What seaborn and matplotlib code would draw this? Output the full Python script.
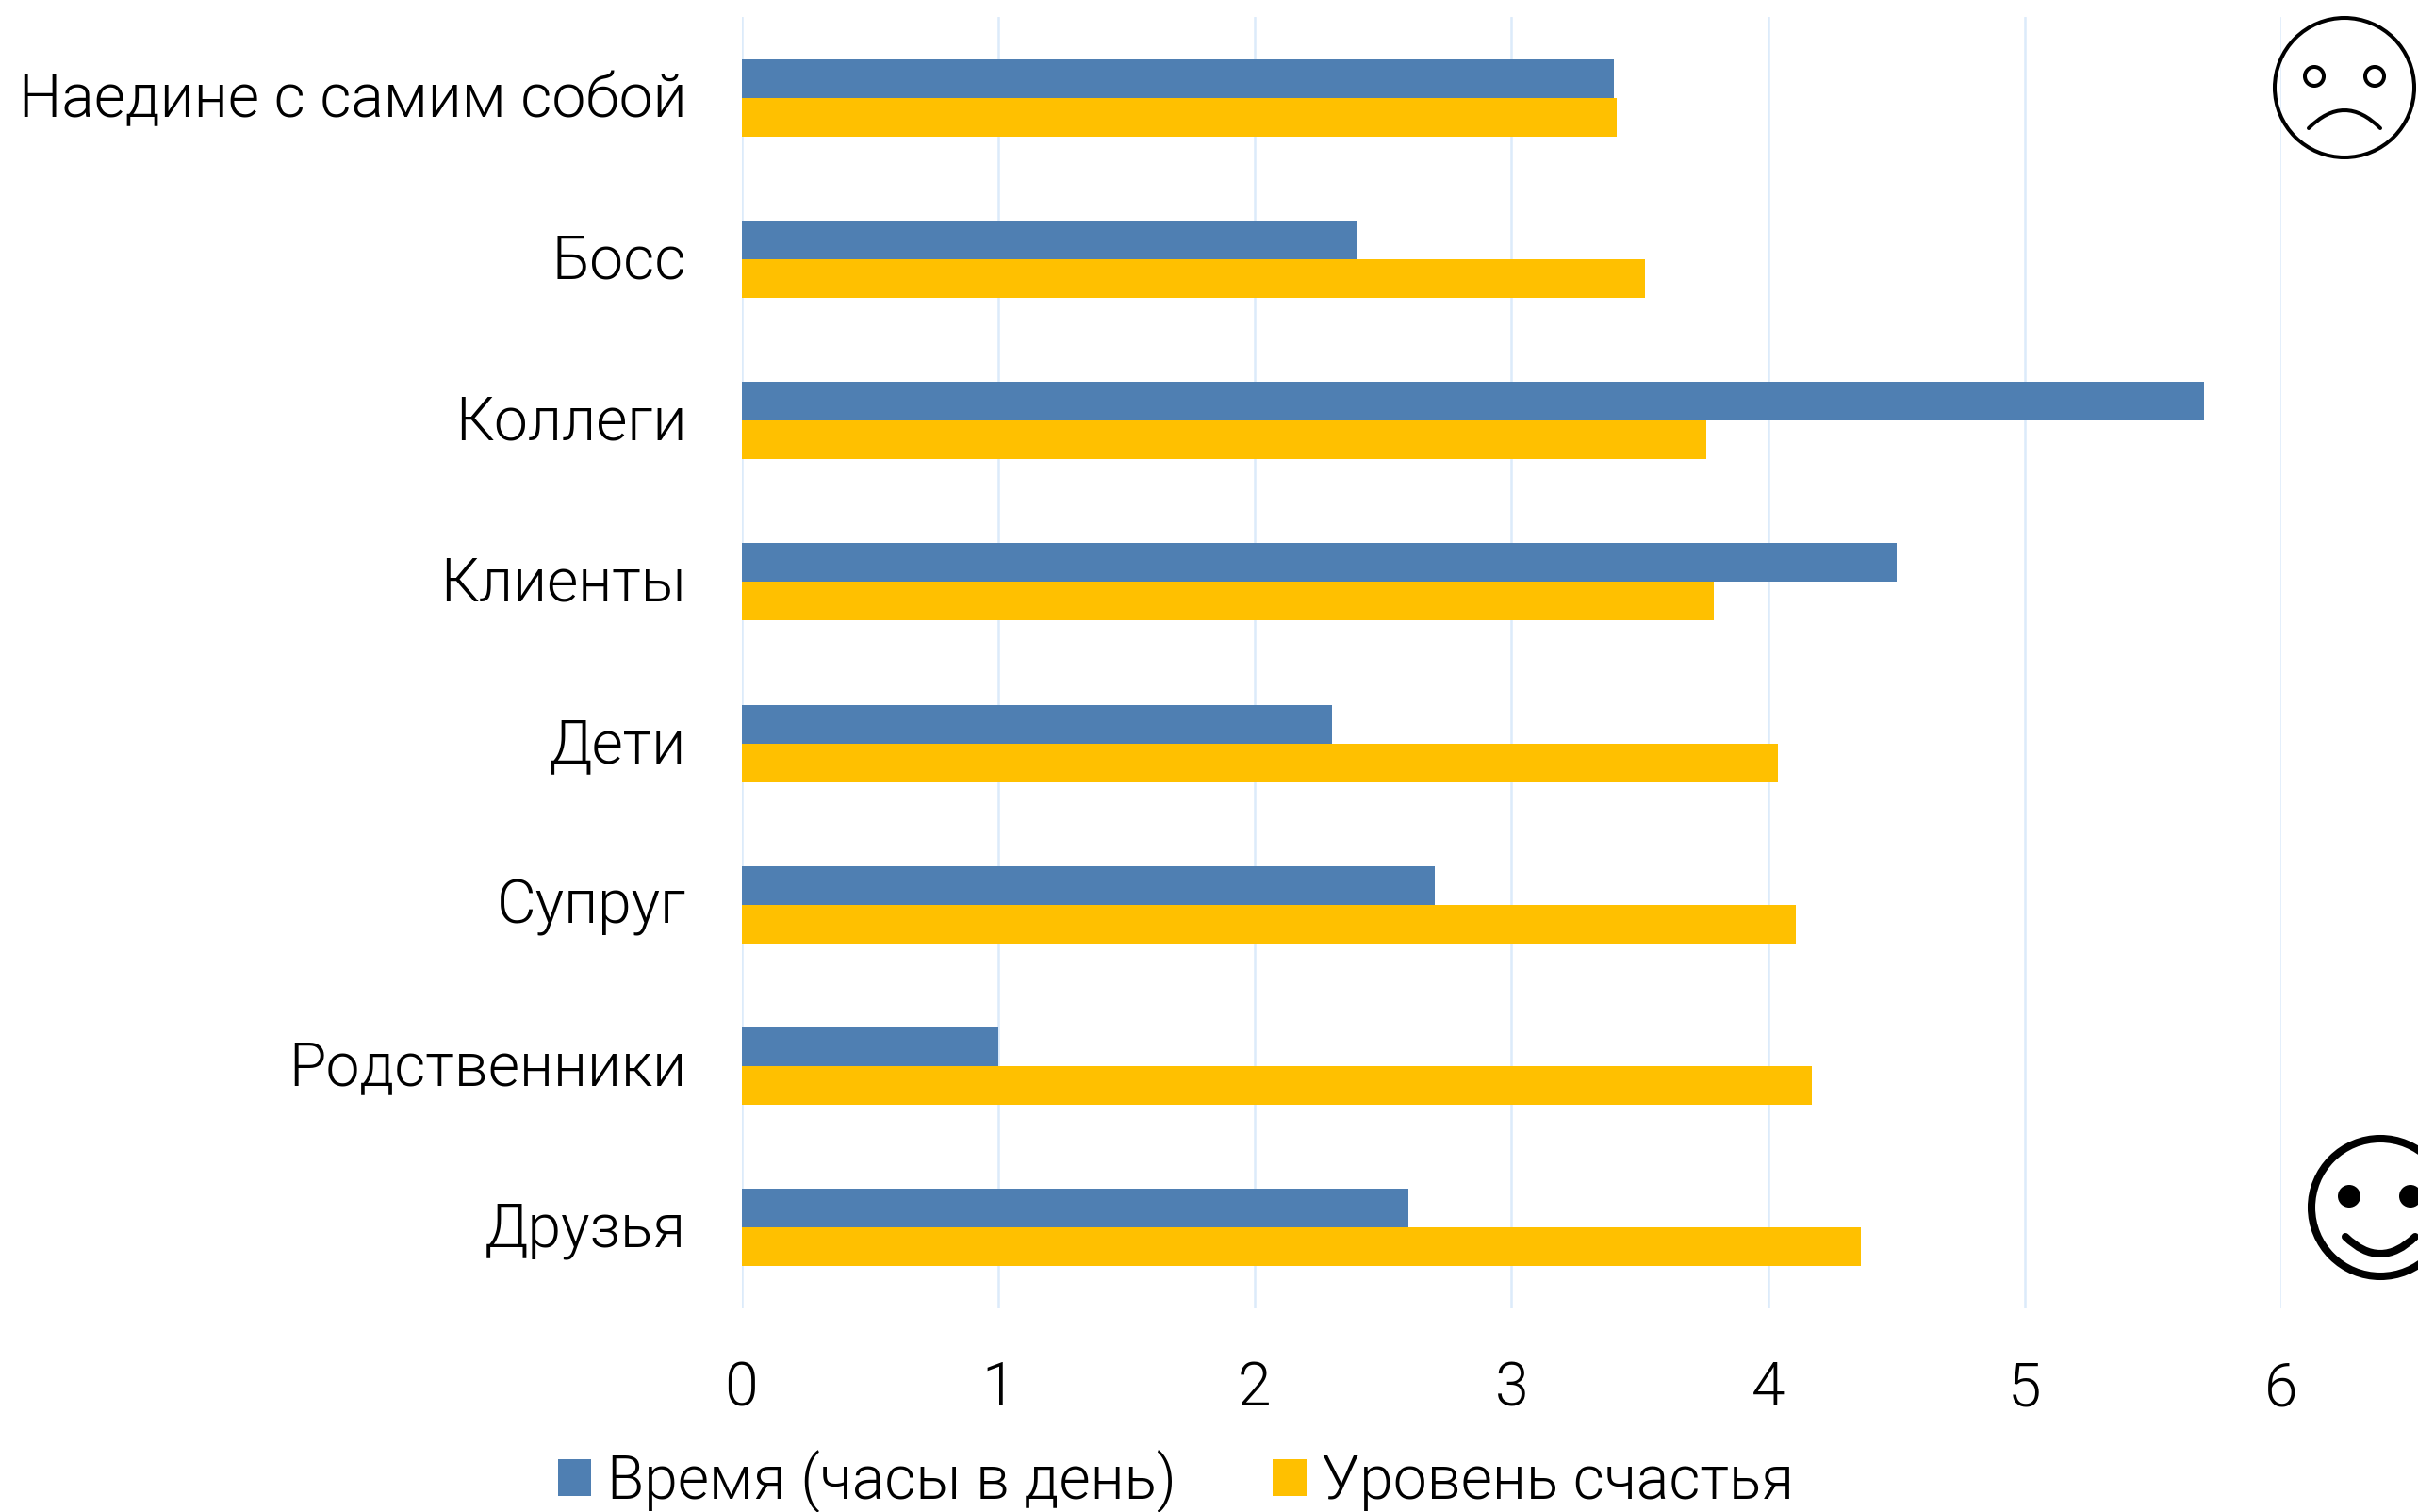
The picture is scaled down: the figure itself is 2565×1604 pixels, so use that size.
import pandas as pd
import seaborn as sns
import matplotlib
matplotlib.use("Agg")
import matplotlib.pyplot as plt
import matplotlib.transforms as mtrans
from matplotlib.patches import Circle, PathPatch
from matplotlib.path import Path

categories = ["Наедине с самим собой", "Босс", "Коллеги", "Клиенты",
              "Дети", "Супруг", "Родственники", "Друзья"]
time_hours = [3.4, 2.4, 5.7, 4.5, 2.3, 2.7, 1.0, 2.6]
happiness = [3.41, 3.52, 3.76, 3.79, 4.04, 4.11, 4.17, 4.36]
series_names = ["Время (часы в день)", "Уровень счастья"]
xticks = [0, 1, 2, 3, 4, 5, 6]

W, H = 2565, 1604

df = pd.DataFrame({
    "cat": categories * 2,
    "value": time_hours + happiness,
    "series": [series_names[0]] * 8 + [series_names[1]] * 8,
})

sns.set_theme(style="white")
plt.rcParams["font.family"] = ["Roboto", "DejaVu Sans"]
plt.rcParams["font.weight"] = 300

fig = plt.figure(figsize=(W / 100, H / 100), dpi=100)
ax = fig.add_axes([786.5 / W, 1 - 1388 / H, (2420 - 786.5) / W, (1388 - 18) / H])

sns.barplot(data=df, y="cat", x="value", hue="series", order=categories,
            palette=["#4F7FB2", "#FFC000"], width=0.479, gap=0, saturation=1,
            dodge=True, ax=ax, zorder=3, linewidth=0, edgecolor="none")

ax.set_xlim(0, 6)
ax.set_ylim(7.5, -0.5)
ax.set_xticks(xticks)
ax.set_xlabel("")
ax.set_ylabel("")
ax.grid(axis="x", color="#DCEBFA", lw=1.8, zorder=0)
ax.set_axisbelow(True)
for s in ax.spines.values():
    s.set_visible(False)
ax.tick_params(axis="x", length=0, pad=39, labelsize=46.2)
ax.tick_params(axis="y", length=0, pad=42, labelsize=46.2)
for t in ax.get_xticklabels() + ax.get_yticklabels():
    t.set_fontweight(300)
    t.set_color("black")
# category labels sit a little higher than the default centre
shift = mtrans.ScaledTranslation(0, 3 / 72, fig.dpi_scale_trans)
for t in ax.get_yticklabels():
    t.set_transform(t.get_transform() + shift)

leg = ax.legend(loc="center left", bbox_to_anchor=(592 / W, 1 - 1572 / H),
                bbox_transform=fig.transFigure, ncol=2, frameon=False,
                fontsize=46.2, handlelength=0.55, handleheight=0.55,
                handletextpad=0.26, columnspacing=1.6, borderpad=0, borderaxespad=0)
for t in leg.get_texts():
    t.set_fontweight(300)
    t.set_color("black")

# overlay in pixel coordinates for the two faces
ov = fig.add_axes([0, 0, 1, 1], facecolor="none")
ov.set_xlim(0, W)
ov.set_ylim(H, 0)
ov.axis("off")


def mouth(x0, x1, y_end, y_mid, lw):
    ctrl = 2 * y_mid - y_end
    p = Path([(x0, y_end), ((x0 + x1) / 2, ctrl), (x1, y_end)],
             [Path.MOVETO, Path.CURVE3, Path.CURVE3])
    ov.add_patch(PathPatch(p, fc="none", ec="black", lw=lw, capstyle="round"))


# sad face
ov.add_patch(Circle((2487, 93), 74, fc="none", ec="black", lw=2.9))
ov.add_patch(Circle((2455, 81), 10, fc="none", ec="black", lw=2.9))
ov.add_patch(Circle((2519, 81), 10, fc="none", ec="black", lw=2.9))
mouth(2449, 2525, 136, 117, 2.9)

# happy face
ov.add_patch(Circle((2525, 1281), 73, fc="none", ec="black", lw=5.8))
ov.add_patch(Circle((2492, 1269), 12, fc="black", ec="none"))
ov.add_patch(Circle((2557, 1269), 12, fc="black", ec="none"))
mouth(2488, 2562, 1312, 1330, 5.8)

fig.savefig("out.png", dpi=100, facecolor="white")
